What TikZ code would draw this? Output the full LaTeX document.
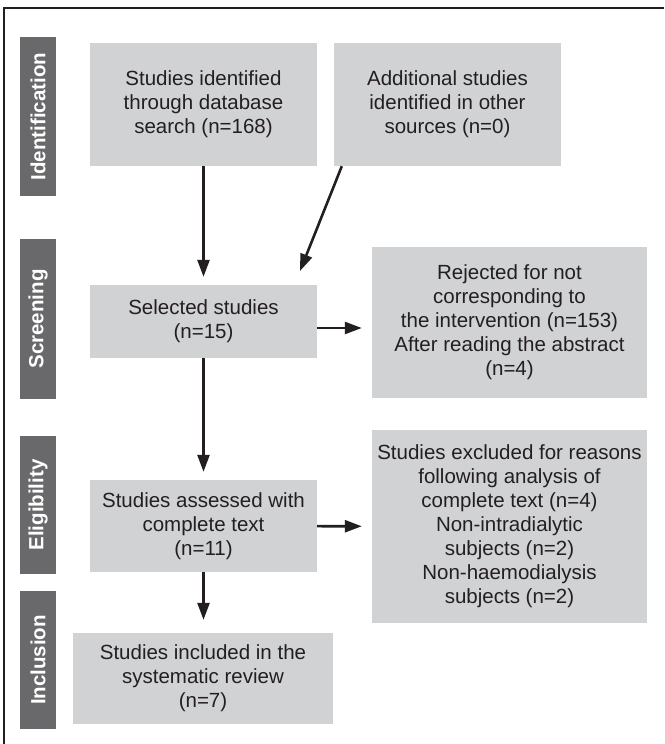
\documentclass[tikz,border=0pt]{standalone}
\usepackage{fontspec}
\setmainfont{Liberation Sans}
\usetikzlibrary{arrows.meta}
\definecolor{bargray}{HTML}{69696B}
\definecolor{boxgray}{HTML}{D1D2D4}
\definecolor{inkgray}{HTML}{231F20}
\tikzset{
  stagebar/.style={fill=bargray, text=white, rotate=90, minimum height=36pt,
    inner sep=0pt, font=\bfseries\fontsize{20.5}{24}\selectfont},
  studybox/.style={fill=boxgray, text=inkgray, align=center, inner sep=0pt,
    font=\fontsize{20.5}{24}\selectfont},
  flowarrow/.style={draw=inkgray, line width=2.6pt, -{Triangle[length=17pt,width=12pt]}}
}
\begin{document}
\begin{tikzpicture}[x=1pt, y=-1pt]
        \useasboundingbox (0,0) rectangle (664,744);
        % frame, cut at the right and bottom
        \draw[line width=2.8pt, draw=inkgray] (664,8) -- (4,8) -- (4,744);
        % stage bars on the left
        \foreach \name/\lab/\yc/\len in {idbar/Identification/116.5/159,
                 scbar/Screening/319/160, elbar/Eligibility/505/138,
                 inbar/Inclusion/660/138}
        \node[stagebar, minimum width=\len pt] (\name) at (38,\yc) {\lab};
        % identification row
        \node[studybox, minimum width=227pt, minimum height=123pt] (dbsearch) at (203.5,104.5)
          {Studies identified\\through database\\search (n=168)};
        \node[studybox, minimum width=227pt, minimum height=123pt] (othersrc) at (447.5,104.5)
          {Additional studies\\identified in other\\sources (n=0)};
        % screening row
        \node[studybox, minimum width=227pt, minimum height=73pt] (selected) at (203.5,321.5)
          {Selected studies\\(n=15)};
        \node[studybox, minimum width=275pt, minimum height=151pt] (rejected) at (509.5,322.5)
          {Rejected for not\\corresponding to\\the intervention (n=153)\\After reading the abstract\\(n=4)};
        % eligibility row
        \node[studybox, minimum width=227pt, minimum height=92pt] (assessed) at (203.5,526)
          {Studies assessed with\\complete text\\(n=11)};
        \node[studybox, minimum width=275pt, minimum height=193pt] (excluded) at (509.5,526.5)
          {Studies excluded for reasons\\following analysis of\\complete text (n=4)\\Non-intradialytic\\subjects (n=2)\\Non-haemodialysis\\subjects (n=2)};
        % inclusion row
        \node[studybox, minimum width=260pt, minimum height=91pt] (included) at (203,678.5)
          {Studies included in the\\systematic review\\(n=7)};
        % arrows
        \coordinate (mergept) at (300,271);
        \draw[flowarrow, shorten >=8pt] (dbsearch) -- (selected);
        \draw[flowarrow] ([xshift=8pt]othersrc.south west) -- (mergept);
        \draw[flowarrow, shorten >=10pt] ([yshift=-6.5pt]selected.east) -- ([yshift=-6.5pt]selected.east -| rejected.west);
        \draw[flowarrow, shorten >=8pt] (selected) -- (assessed);
        \draw[flowarrow, shorten >=10pt] (assessed) -- (excluded);
        \draw[flowarrow, shorten >=13pt] (assessed) -- (included.north -| assessed.south);
    \end{tikzpicture}
\end{document}
